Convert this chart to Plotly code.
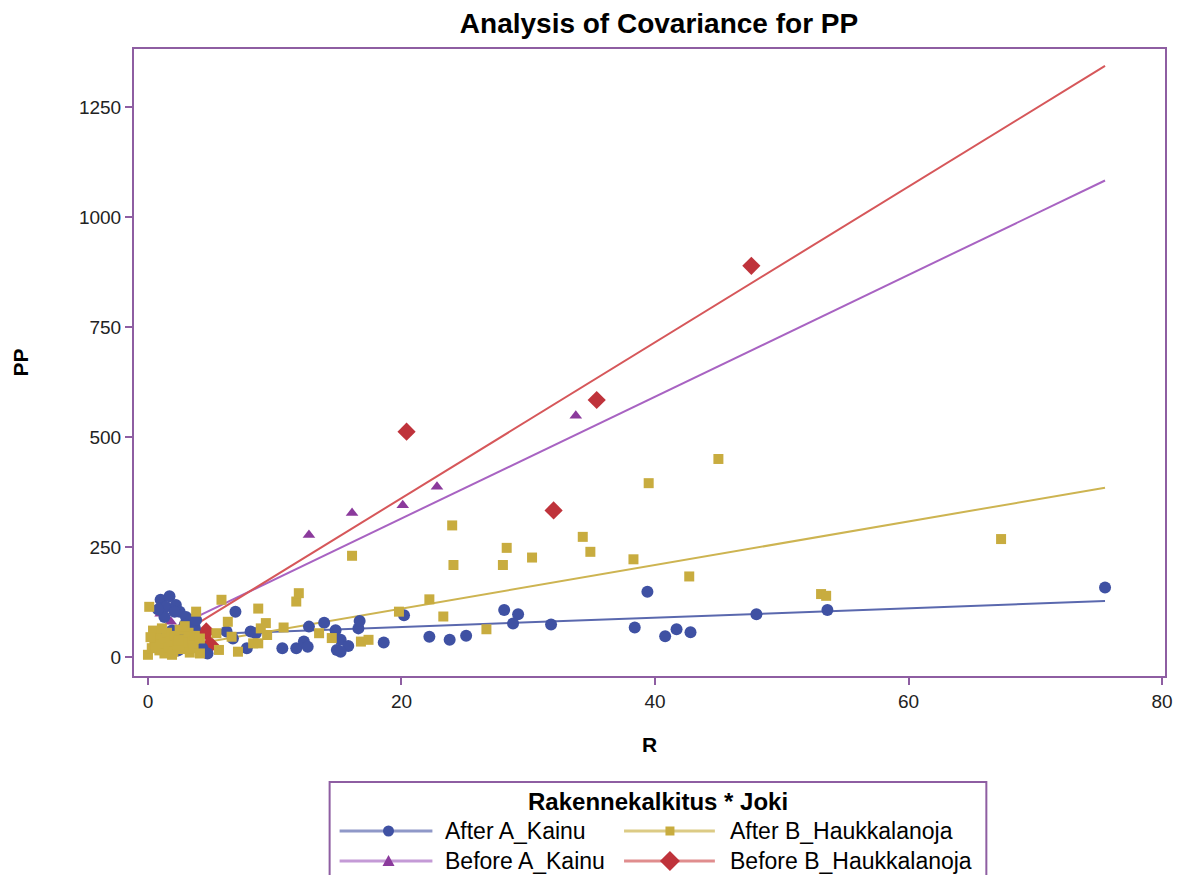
import plotly.graph_objects as go

# ---- data: R vs PP by group (Rakennekalkitus * Joki) ----
group_names = ["After A_Kainu", "After B_Haukkalanoja", "Before A_Kainu", "Before B_Haukkalanoja"]

after_a_x = [1.0, 1.7, 1.4, 2.2, 2.5, 2.1, 3.0, 3.4, 3.7, 2.9, 1.3, 0.8, 1.9, 2.6, 3.3, 1.1, 0.6, 3.8, 4.3, 2.4,
             4.7, 6.2, 6.7, 6.9, 8.1, 8.5, 7.8, 10.6, 11.7, 12.3, 12.6, 12.7, 13.9, 14.8, 14.9, 15.2, 15.8, 15.2,
             16.6, 16.7, 18.6, 20.2, 22.2, 23.8, 25.1, 28.1, 29.2, 28.8, 31.8, 38.4, 39.4, 40.8, 41.7, 42.8,
             48.0, 53.6, 75.5]
after_a_y = [130, 138, 114, 118, 103, 103, 91, 84, 66, 73, 91, 108, 60, 45, 30, 40, 55, 84, 20, 15,
             8, 58, 42, 103, 58, 54, 20, 20, 20, 35, 23, 69, 78, 61, 16, 39, 25, 12,
             65, 82, 33, 95, 46, 39, 48, 107, 97, 76, 74, 67, 148, 47, 63, 56,
             97, 107, 158]

after_b_x = [0.1, 0.0, 0.3, 0.5, 0.7, 0.9, 1.0, 1.2, 1.3, 1.5, 1.6, 1.8, 2.0, 2.1, 2.3, 2.5, 2.6, 2.8, 3.0, 3.2,
             3.3, 3.5, 3.7, 3.8, 0.4, 1.1, 2.9, 0.6, 1.9, 3.6, 0.2, 2.4,
             4.1, 4.1, 5.4, 5.6, 5.8, 6.3, 6.6, 7.1, 8.3, 8.7, 8.9, 8.7, 9.3, 9.4, 10.7, 11.7, 11.9, 13.5,
             14.5, 16.1, 16.8, 17.4, 19.8, 22.2, 23.3, 24.0, 24.1, 26.7, 28.0, 28.3, 30.3, 34.3, 34.9, 38.3,
             39.5, 42.7, 45.0, 53.1, 53.5, 67.3]
after_b_y = [114, 5, 20, 35, 50, 15, 28, 42, 8, 55, 22, 35, 12, 48, 28, 62, 18, 40, 25, 55,
             10, 35, 48, 103, 60, 65, 70, 25, 5, 20, 45, 38,
             42, 8, 54, 16, 130, 80, 46, 12, 31, 110, 65, 31, 77, 50, 67, 126, 145, 54,
             43, 230, 35, 39, 103, 131, 92, 299, 209, 63, 209, 248, 226, 273, 239, 222,
             395, 183, 450, 143, 139, 268]

before_a_x = [1.0, 1.8, 12.7, 16.1, 20.1, 22.8, 33.75]
before_a_y = [98, 80, 277, 327, 345, 387, 548]

before_b_x = [3.8, 4.6, 4.9, 20.4, 32.0, 35.4, 47.6]
before_b_y = [52, 58, 28, 512, 333, 584, 889]

# fitted ANCOVA lines (separate slopes), one per group
fit_intercept = [47.0, 11.0, 38.0, 7.0]
fit_slope = [1.06, 4.95, 13.84, 17.7]

# axis ticks
x_ticks = [0, 20, 40, 60, 80]
y_ticks = [0, 250, 500, 750, 1000, 1250]

# ---- styling ----
marker_colors = ["#3F51A3", "#C8AC3F", "#8B3A9C", "#BF333B"]
line_colors = ["#5A68AE", "#CDB451", "#A863C2", "#D6575A"]
legend_line_colors = ["#8F98C8", "#DCCB85", "#C49AD6", "#E08D8E"]
symbols = ["circle", "square", "triangle-up", "diamond"]
sizes = [12, 10, 11, 14]
frame_color = "#8E5EA2"
font_family = "Arial, Liberation Sans, sans-serif"

xs = [after_a_x, after_b_x, before_a_x, before_b_x]
ys = [after_a_y, after_b_y, before_a_y, before_b_y]
x_max = max(max(v) for v in xs)

fig = go.Figure()

# regression lines (drawn beneath the markers)
for i in range(4):
    x0 = min(xs[i])
    lx = [x0, x_max]
    ly = [fit_intercept[i] + fit_slope[i] * v for v in lx]
    fig.add_trace(go.Scatter(x=lx, y=ly, mode="lines",
                             line=dict(color=line_colors[i], width=2),
                             showlegend=False, hoverinfo="skip"))

# observations: "Before" groups first, then blue, with gold squares on top
for i in [3, 2, 0, 1]:
    fig.add_trace(go.Scatter(x=xs[i], y=ys[i], mode="markers", name=group_names[i],
                             marker=dict(symbol=symbols[i], size=sizes[i], color=marker_colors[i],
                                         line=dict(width=0)),
                             showlegend=False))

# ---- plot geometry (pixels) ----
W, H = 1185, 875
L, R, T, B = 133, 1168, 48, 677


def px(xpix):
    return (xpix - L) / (R - L)


def py(ypix):
    return (B - ypix) / (B - T)


# ---- hand-built legend below the plot ----
shapes = [dict(type="rect", xref="paper", yref="paper",
               x0=px(330), x1=px(988), y0=py(782), y1=py(900),
               line=dict(color=frame_color, width=2), fillcolor="rgba(0,0,0,0)", layer="above")]
annotations = [dict(text="<b>Rakennekalkitus * Joki</b>", xref="paper", yref="paper",
                    x=px(659), y=py(801), xanchor="center", yanchor="middle", showarrow=False,
                    font=dict(family=font_family, size=24, color="#000000"))]

entry_pos = [(340, 433, 389, 444, 831), (625, 716, 671, 729, 831),
             (340, 433, 389, 444, 861), (625, 716, 671, 729, 861)]
for i, (lx0, lx1, mx, tx, ry) in enumerate(entry_pos):
    shapes.append(dict(type="line", xref="paper", yref="paper",
                       x0=px(lx0), x1=px(lx1), y0=py(ry), y1=py(ry),
                       line=dict(color=legend_line_colors[i], width=3), layer="above"))
    anchor = dict(xref="paper", yref="paper", xsizemode="pixel", ysizemode="pixel",
                  xanchor=px(mx), yanchor=py(ry), line=dict(width=0),
                  fillcolor=marker_colors[i], layer="above")
    if symbols[i] == "circle":
        shapes.append(dict(type="circle", x0=-5.5, x1=5.5, y0=-5.5, y1=5.5, **anchor))
    elif symbols[i] == "square":
        shapes.append(dict(type="rect", x0=-4.5, x1=4.5, y0=-4.5, y1=4.5, **anchor))
    elif symbols[i] == "triangle-up":
        shapes.append(dict(type="path", path="M -6,-5 L 6,-5 L 0,6 Z", **anchor))
    else:
        shapes.append(dict(type="path", path="M -10,0 L 0,10 L 10,0 L 0,-10 Z", **anchor))
    annotations.append(dict(text=group_names[i], xref="paper", yref="paper",
                            x=px(tx), y=py(ry), xanchor="left", yanchor="middle", showarrow=False,
                            font=dict(family=font_family, size=23, color="#000000")))

# plot frame
shapes.append(dict(type="rect", xref="paper", yref="paper", x0=0, x1=1, y0=0, y1=1,
                   line=dict(color=frame_color, width=2), fillcolor="rgba(0,0,0,0)", layer="above"))

fig.update_layout(
    width=W, height=H,
    margin=dict(l=L, r=W - R, t=T, b=H - B),
    paper_bgcolor="white", plot_bgcolor="white",
    font=dict(family=font_family, color="#000000"),
    title=dict(text="<b>Analysis of Covariance for PP</b>", x=(659 / W), xanchor="center",
               y=1 - 23 / H, yanchor="middle", font=dict(size=28, family=font_family)),
    xaxis=dict(range=[-1.18, 80.31], tickvals=x_ticks, ticks="outside", ticklen=7, tickwidth=2,
               tickcolor=frame_color, showgrid=False, zeroline=False, showline=False,
               tickfont=dict(size=19, color="#222222"),
               title=dict(text="<b>R</b>", font=dict(size=21), standoff=26)),
    yaxis=dict(range=[-45.5, 1384], tickvals=y_ticks, ticks="outside", ticklen=7, tickwidth=2,
               tickcolor=frame_color, showgrid=False, zeroline=False, showline=False,
               tickfont=dict(size=19, color="#222222"),
               title=dict(text="<b>PP</b>", font=dict(size=21), standoff=44)),
    shapes=shapes,
    annotations=annotations,
    showlegend=False,
)

fig.write_html("out.html")
